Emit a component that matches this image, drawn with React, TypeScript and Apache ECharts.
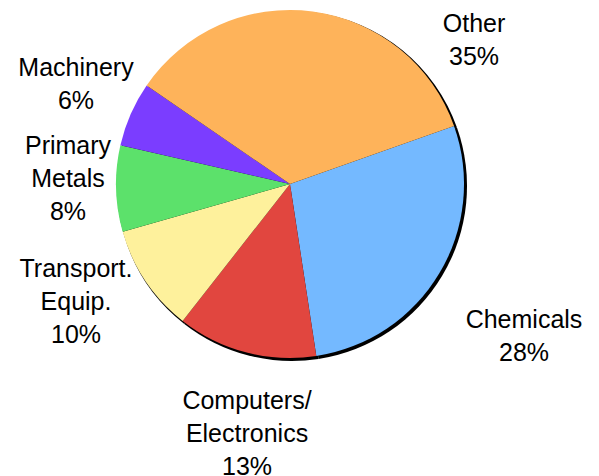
import React, { useEffect, useRef } from "react";
import * as echarts from "echarts";

const categories = ["Chemicals", "Computers/\nElectronics", "Transport.\nEquip.", "Primary\nMetals", "Machinery", "Other"];
const shares = [28, 13, 10, 8, 6, 35];
const colors = ["#74b9ff", "#e1463f", "#fef19c", "#5ce16b", "#7b3dff", "#feb35a"];
const labelPos: [number, number][] = [
  [524, 335],
  [247, 433],
  [76, 301],
  [68, 178],
  [76, 83],
  [474, 39],
];

export default function App() {
  const ref = useRef<HTMLDivElement>(null);
  useEffect(() => {
    if (!ref.current) return;
    const chart = echarts.init(ref.current, null, { renderer: "svg" });
    const data = categories.map((name, i) => ({
      name,
      value: shares[i],
      itemStyle: { color: colors[i] },
    }));
    chart.setOption({
      animation: false,
      backgroundColor: "#ffffff",
      series: [
        {
          type: "pie",
          silent: true,
          center: [292, 186],
          radius: 175,
          startAngle: 19.5,
          clockwise: true,
          label: { show: false },
          labelLine: { show: false },
          itemStyle: { color: "#000000" },
          data: categories.map((name, i) => ({ name, value: shares[i] })),
          z: 1,
        },
        {
          type: "pie",
          center: [290, 184],
          radius: 174,
          startAngle: 19.5,
          clockwise: true,
          avoidLabelOverlap: false,
          label: {
            show: true,
            position: "outside",
            formatter: (p: any) => `${p.name}\n${p.value}%`,
            fontFamily: "Liberation Sans, Arial, sans-serif",
            fontSize: 25,
            lineHeight: 33,
            color: "#000000",
            align: "center",
          },
          labelLine: { show: false },
          labelLayout: (params: any) => ({
            x: labelPos[params.dataIndex][0],
            y: labelPos[params.dataIndex][1],
            align: "center",
            verticalAlign: "middle",
          }),
          data,
          z: 2,
        },
      ],
    });
    return () => chart.dispose();
  }, []);
  return (
    <div
      ref={ref}
      style={{ position: "absolute", left: 0, top: 0, width: 599, height: 476 }}
    />
  );
}
